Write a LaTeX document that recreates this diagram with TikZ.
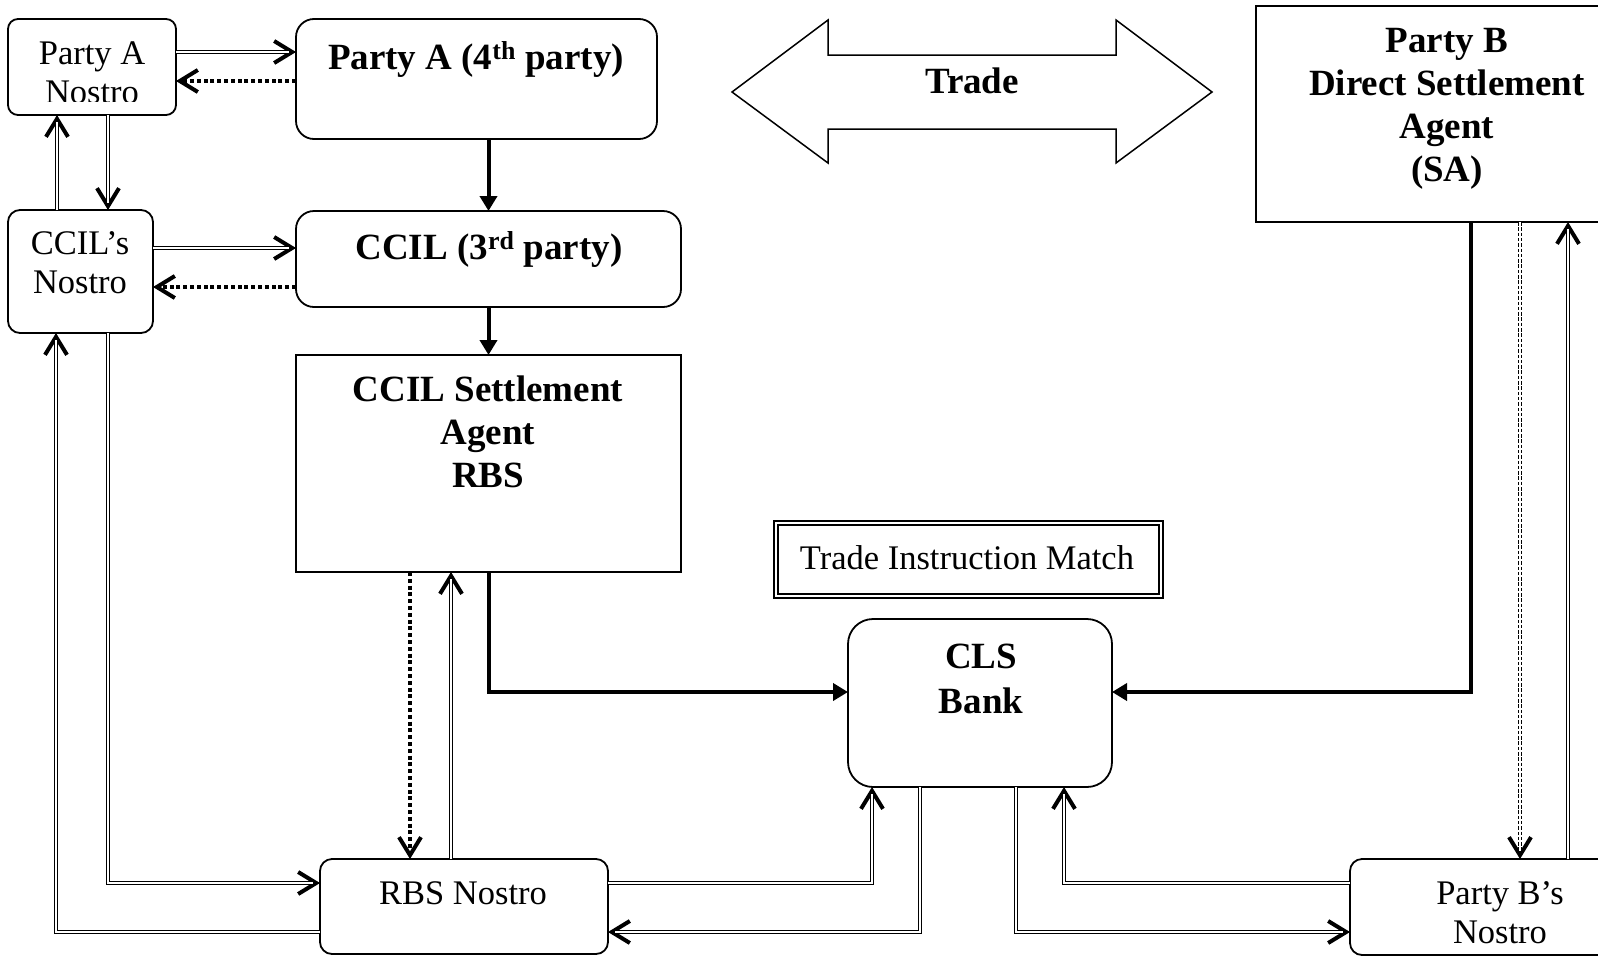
\documentclass[tikz,border=0pt]{standalone}
\usepackage{fontspec}
\setmainfont{Liberation Serif}
\usetikzlibrary{arrows.meta,calc}
\begin{document}
\begin{tikzpicture}[x=1pt,y=-1pt,
  box/.style={draw, line width=1.8pt, inner sep=0pt, outer sep=0pt},
  rbox/.style={box, rounded corners=#1},
  reg/.style={inner sep=0pt, font=\fontsize{34.5}{39}\selectfont, align=center},
  bld/.style={inner sep=0pt, font=\fontsize{37}{43}\selectfont\bfseries, align=center},
  barb/.style={-{Straight Barb[length=18pt,width=22pt,line width=4pt]}},
  dbl/.style={line width=3.2pt, barb, postaction={draw=white, line width=1.1pt, -, shorten >=7pt}},
  dots/.style={line width=4pt, dash pattern=on 4pt off 2.8pt, barb},
  dbldots/.style={line width=3.4pt, dash pattern=on 3.5pt off 1.8pt, barb, postaction={draw=white, line width=1.4pt, -, shorten >=7pt}},
  thickarr/.style={line width=4pt, -{Triangle[length=15pt,width=17pt]}}
]
\clip (0,0) rectangle (1598,956);
\fill[white] (0,0) rectangle (1598,956);

% boxes
\node[rbox=10pt, minimum width=168pt, minimum height=96pt] (pan) at (92,67) {};
\node[rbox=18pt, minimum width=361pt, minimum height=120pt] (pa) at (476.5,79) {};
\node[rbox=12pt, minimum width=145pt, minimum height=123pt] (cn) at (80.5,271.5) {};
\node[rbox=18pt, minimum width=385pt, minimum height=96pt] (ccil) at (488.5,259) {};
\node[box, minimum width=385pt, minimum height=217pt] (ccilsa) at (488.5,463.5) {};
\node[box, minimum width=382pt, minimum height=216pt] (pb) at (1447,114) {};
\node[draw, double, line width=1.8pt, double distance=2.6pt, inner sep=0pt, outer sep=0pt,
      minimum width=385pt, minimum height=73pt] (tim) at (968.5,559.5) {};
\node[rbox=25pt, minimum width=264pt, minimum height=168pt] (cls) at (980,703) {};
\node[rbox=12pt, minimum width=288pt, minimum height=95pt] (rbs) at (464,906.5) {};
\node[rbox=12pt, minimum width=300pt, minimum height=96pt] (pbn) at (1500,907) {};

% trade arrow
\draw[line width=1.5pt, line join=miter] (732,92) -- (828,20) -- (828,55) -- (1116,55) -- (1116,20)
  -- (1212,92) -- (1116,163) -- (1116,129) -- (828,129) -- (828,163) -- cycle;

% texts (anchor=base is the baseline of the last line)
\begin{scope}
\clip (8,19) rectangle (176,101);
\node[reg, anchor=base] (panT) at (92,103) {Party A\\Nostro};
\end{scope}
\node[bld, anchor=base] (paT) at (476,69) {Party A (4\textsuperscript{th} party)};
\node[reg, anchor=base] (cnT) at (80,293) {CCIL’s\\Nostro};
\node[bld, anchor=base] (ccilT) at (489,259) {CCIL (3\textsuperscript{rd} party)};
\node[bld, anchor=base] (ccilsaT) at (488,487) {CCIL Settlement\\Agent\\RBS};
\node[bld, anchor=base] (pbT) at (1447,181) {Party B\\Direct Settlement\\Agent\\(SA)};
\node[bld, anchor=base] (tradeT) at (972,93) {Trade};
\node[reg, anchor=base] (timT) at (967,569) {Trade Instruction Match};
\node[bld, anchor=base, font=\fontsize{37}{45}\selectfont\bfseries] (clsT) at (981,713) {CLS\\Bank};
\node[reg, anchor=base] (rbsT) at (463,904) {RBS Nostro};
\begin{scope}
\clip (1350,859) rectangle (1598,943);
\node[reg, anchor=base] (pbnT) at (1500,943) {Party B’s\\Nostro};
\end{scope}

% helper coordinates
\coordinate (a1) at ([yshift=15pt]pan.east);
\coordinate (a2) at ([yshift=-14pt]pan.east);
\coordinate (b1) at ([xshift=16pt]pan.south);
\coordinate (b2) at ([xshift=-35pt]pan.south);
\coordinate (c1) at ([yshift=23.5pt]cn.east);
\coordinate (c2) at ([yshift=-15.5pt]cn.east);
\coordinate (d1) at ([xshift=27.5pt]cn.south);
\coordinate (d2) at ([xshift=-24.5pt]cn.south);
\coordinate (r1) at ([yshift=23.5pt]rbs.west);
\coordinate (r2) at ([yshift=-25.5pt]rbs.west);
\coordinate (r3) at ([yshift=23.5pt]rbs.east);
\coordinate (r4) at ([yshift=-25.5pt]rbs.east);
\coordinate (s1) at ([xshift=-78.5pt]ccilsa.south);
\coordinate (s2) at ([xshift=-37.5pt]ccilsa.south);
\coordinate (k1) at ([xshift=-108pt]cls.south);
\coordinate (k2) at ([xshift=-60pt]cls.south);
\coordinate (k3) at ([xshift=36pt]cls.south);
\coordinate (k4) at ([xshift=84pt]cls.south);
\coordinate (kw) at ([yshift=11pt]cls.west);
\coordinate (ke) at ([yshift=11pt]cls.east);
\coordinate (p1) at ([yshift=24pt]pbn.west);
\coordinate (p2) at ([yshift=-25pt]pbn.west);
\coordinate (q1) at ([xshift=24pt]pb.south);
\coordinate (q2) at ([xshift=73pt]pb.south);
\coordinate (q3) at ([xshift=121pt]pb.south);

% connectors
\draw[dbl] (a1) -- (a1 -| pa.west);
\draw[dots] (a2 -| pa.west) -- (a2);
\draw[dbl] (b1) -- (b1 |- cn.north);
\draw[dbl] (b2 |- cn.north) -- (b2);
\draw[dbl] (c1) -- (c1 -| ccil.west);
\draw[dots] (c2 -| ccil.west) -- (c2);
\draw[thickarr] (ccil.north |- pa.south) -- (ccil.north);
\draw[thickarr] (ccil.south) -- (ccilsa.north);
\draw[dbl] (d1) |- (r1);
\draw[dbl] (r2) -| (d2);
\draw[dots] (s1) -- (s1 |- rbs.north);
\draw[dbl] (s2 |- rbs.north) -- (s2);
\draw[thickarr] (ccilsa.south) |- (kw);
\draw[thickarr] (q1) |- (ke);
\draw[dbl] (r3) -| (k1);
\draw[dbl] (k2) |- (r4);
\draw[dbl] (k3) |- (p2);
\draw[dbl] (p1) -| (k4);
\draw[dbldots] (q2) -- (q2 |- pbn.north);
\draw[dbl] (q3 |- pbn.north) -- (q3);
\end{tikzpicture}
\end{document}
